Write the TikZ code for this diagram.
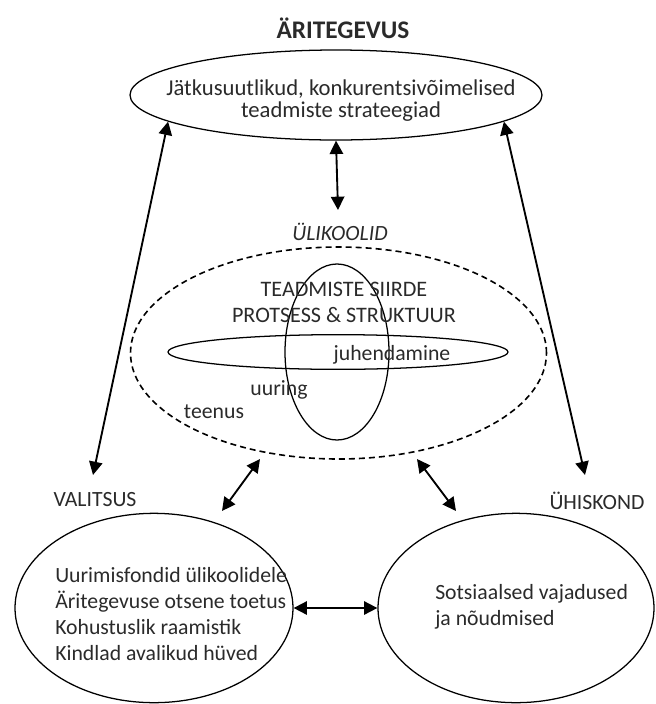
\documentclass[tikz,border=0pt]{standalone}
\usepackage{fontspec}
\setmainfont{Carlito}
\usetikzlibrary{arrows.meta,shapes.geometric}
\definecolor{ink}{HTML}{2A2A2A}
\tikzset{
  oval/.style={ellipse, draw, line width=0.95pt, inner sep=0pt},
  dashoval/.style={oval, line width=1.2pt, dash pattern=on 4.5pt off 3pt},
  lbl/.style={inner sep=0pt, text=ink, font=\fontsize{16.3}{19.5}\selectfont},
  arr/.style={line width=1.4pt, {Triangle[length=10pt,width=10pt]}-{Triangle[length=10pt,width=10pt]}},
}
\begin{document}
\begin{tikzpicture}[x=0.75pt,y=-0.75pt]
\useasboundingbox (0,0) rectangle (656,704);

% title
\node[lbl, font=\fontsize{19}{22}\selectfont\bfseries] (title) at (343,28) {ÄRITEGEVUS};

% business ellipse
\node[oval, minimum width=309pt, minimum height=67.5pt] (T) at (336,95) {};
\node[lbl, align=center, font=\fontsize{17}{16.5}\selectfont] (Ttxt) at (341,101)
  {Jätkusuutlikud, konkurentsivõimelised\\teadmiste strateegiad};

% universities
\node[lbl, font=\fontsize{16.3}{19.5}\selectfont\itshape] (U) at (340,232) {ÜLIKOOLID};
\node[dashoval, minimum width=312pt, minimum height=159pt] (D) at (338.5,353) {};
\node[oval, minimum width=78pt, minimum height=132pt] (E) at (337,352) {};
\node[oval, minimum width=255pt, minimum height=26pt] (F) at (338,352) {};
\node[lbl, align=center, font=\fontsize{16.6}{19.5}\selectfont] (P) at (344,302) {TEADMISTE SIIRDE\\PROTSESS \& STRUKTUUR};
\node[lbl] (juh) at (392,355) {juhendamine};
\node[lbl] (uur) at (279,390) {uuring};
\node[lbl] (tee) at (214,412) {teenus};

% government and society
\node[lbl] (V) at (95,500) {VALITSUS};
\node[lbl] (S) at (597,501) {ÜHISKOND};
\node[oval, minimum width=208.5pt, minimum height=142pt] (L) at (154,608) {};
\node[oval, minimum width=207pt, minimum height=142pt] (R) at (516,608) {};
\node[lbl, align=left, anchor=west] (Ltxt) at (55,614)
  {Uurimisfondid ülikoolidele\\Äritegevuse otsene toetus\\Kohustuslik raamistik\\Kindlad avalikud hüved};
\node[lbl, align=left, anchor=west] (Rtxt) at (435,607)
  {Sotsiaalsed vajadused\\ja nõudmised};

% free ends of connectors
\coordinate (um) at (338,210);
\coordinate (vl) at (93,475);
\coordinate (vr) at (585,475);
\coordinate (dl) at (260,459);
\coordinate (ll) at (222,511);
\coordinate (dr) at (417,459);
\coordinate (rr) at (456,511);

% connectors
\draw[arr] (T.south) -- (um);
\draw[arr] (T.189) -- (vl);
\draw[arr] (T.351) -- (vr);
\draw[arr] (dl) -- (ll);
\draw[arr] (dr) -- (rr);
\draw[arr] (L.east) -- (R.west);
\end{tikzpicture}
\end{document}
